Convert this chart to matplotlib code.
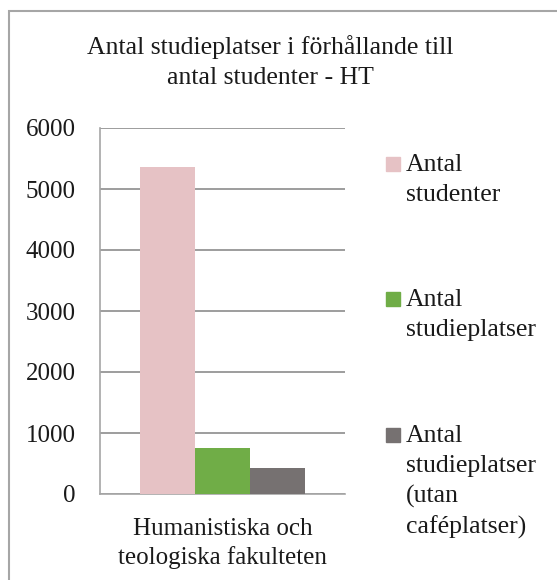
import matplotlib.pyplot as plt
from matplotlib.patches import Rectangle

title = 'Antal studieplatser i förhållande till\nantal studenter - HT'
category = 'Humanistiska och\nteologiska fakulteten'
series = ['Antal\nstudenter', 'Antal\nstudieplatser', 'Antal\nstudieplatser\n(utan\ncaféplatser)']
values = [5360, 755, 428]
colors = ['#E6C2C5', '#70AD47', '#767171']
yticks = [0, 1000, 2000, 3000, 4000, 5000, 6000]

plt.rcParams['font.family'] = ['Liberation Serif', 'DejaVu Serif']
txt = '#1a1a1a'

fig = plt.figure(figsize=(5.57, 5.80), dpi=100)
W, H = 557, 580

# outer frame of the chart area
fig.patches.append(Rectangle((9 / W, -0.1), 1.2, 1 - 11 / H + 0.1, transform=fig.transFigure,
                             fill=False, edgecolor='#a6a6a6', linewidth=1.5))

ax = fig.add_axes([100 / W, 1 - 494 / H, 245 / W, 366 / H])
bw = 0.224
for i, (v, c) in enumerate(zip(values, colors)):
    ax.bar((i - 1) * bw, v, width=bw, color=c, zorder=3)

ax.set_xlim(-0.5, 0.5)
ax.set_ylim(0, 6000)
ax.set_yticks(yticks)
ax.set_yticklabels([str(t) for t in yticks], fontsize=18, color=txt)
ax.tick_params(axis='y', length=0, pad=17.5)
ax.set_xticks([0])
ax.set_xticklabels([category], fontsize=18, color=txt, linespacing=1.35)
ax.tick_params(axis='x', length=0, pad=17)
ax.grid(axis='y', color='#8c8c8c', linewidth=1.2, zorder=0)
for s in ['top', 'right']:
    ax.spines[s].set_visible(False)
ax.spines['left'].set_color('#a6a6a6')
ax.spines['left'].set_linewidth(1.2)
ax.spines['bottom'].set_color('#a6a6a6')
ax.spines['bottom'].set_linewidth(1.2)

fig.text(270 / W, 1 - 62 / H, title, ha='center', va='center', fontsize=18.5,
         color=txt, linespacing=1.45)

# legend drawn by hand to keep squares aligned to the first text line
baselines = [171, 306, 442]
for lab, c, yy in zip(series, colors, baselines):
    fig.patches.append(Rectangle((386 / W, 1 - yy / H), 14 / W, 14 / H,
                                 transform=fig.transFigure, color=c))
    fig.text(406 / W, 1 - (yy - 17) / H, lab, ha='left', va='top', fontsize=18.5,
             color=txt, linespacing=1.45)

fig.savefig('out.png', dpi=100)
